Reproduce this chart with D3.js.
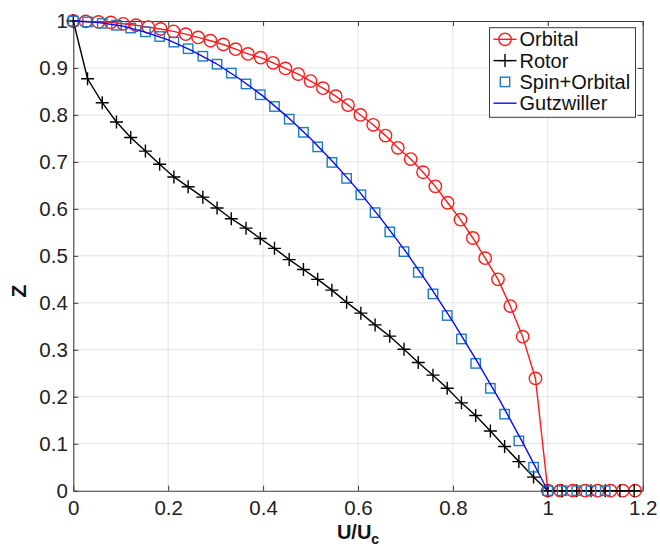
<!DOCTYPE html>
<html>
<head>
<meta charset="utf-8">
<script src="https://cdn.jsdelivr.net/npm/d3@7"></script>
<style>
  html, body { margin: 0; padding: 0; background: #fff; }
  svg { display: block; }
  text { font-family: "Liberation Sans", Arial, Helvetica, sans-serif; }
</style>
</head>
<body>
<svg id="chart" width="660" height="548"></svg>
<script>
// Quasiparticle weight Z versus U/Uc for the different slave-particle treatments.

const orbitalU = [0, 0.026, 0.053, 0.079, 0.105, 0.132, 0.158, 0.184, 0.211, 0.237,
  0.263, 0.289, 0.316, 0.342, 0.368, 0.395, 0.421, 0.447, 0.474, 0.500,
  0.526, 0.553, 0.579, 0.605, 0.632, 0.658, 0.684, 0.711, 0.737, 0.763,
  0.789, 0.816, 0.842, 0.868, 0.895, 0.921, 0.947, 0.974, 1.000,
  1.026, 1.053, 1.079, 1.105, 1.132, 1.158, 1.184];
const orbitalZ = [1.000, 0.999, 0.998, 0.997, 0.994, 0.991, 0.987, 0.983, 0.978, 0.972,
  0.965, 0.958, 0.950, 0.940, 0.930, 0.922, 0.911, 0.899, 0.887, 0.872,
  0.857, 0.840, 0.821, 0.800, 0.779, 0.756, 0.730, 0.706, 0.678, 0.648,
  0.613, 0.577, 0.538, 0.495, 0.450, 0.393, 0.328, 0.239, 0,
  0, 0, 0, 0, 0, 0, 0];

const rotorU = [0, 0.030, 0.061, 0.091, 0.121, 0.152, 0.182, 0.212, 0.242, 0.273,
  0.303, 0.333, 0.364, 0.394, 0.424, 0.455, 0.485, 0.515, 0.545, 0.576,
  0.606, 0.636, 0.667, 0.697, 0.727, 0.758, 0.788, 0.818, 0.848, 0.879,
  0.909, 0.939, 0.970, 1.000, 1.030, 1.061, 1.091, 1.121, 1.152, 1.182];
const rotorZ = [1.000, 0.877, 0.826, 0.785, 0.752, 0.723, 0.695, 0.668, 0.647, 0.625,
  0.602, 0.579, 0.559, 0.537, 0.516, 0.492, 0.471, 0.450, 0.427, 0.401,
  0.378, 0.353, 0.329, 0.301, 0.273, 0.246, 0.218, 0.187, 0.160, 0.127,
  0.094, 0.062, 0.029, 0, 0, 0, 0, 0, 0, 0];

const spinOrbitalU = [0, 0.030, 0.061, 0.091, 0.121, 0.152, 0.182, 0.212, 0.242, 0.273,
  0.303, 0.333, 0.364, 0.394, 0.424, 0.455, 0.485, 0.515, 0.545, 0.576,
  0.606, 0.636, 0.667, 0.697, 0.727, 0.758, 0.788, 0.818, 0.848, 0.879,
  0.909, 0.939, 0.970, 1.000, 1.030, 1.061, 1.091, 1.121];
const spinOrbitalZ = [1.000, 0.998, 0.995, 0.991, 0.985, 0.977, 0.967, 0.955, 0.941, 0.925,
  0.908, 0.889, 0.866, 0.843, 0.818, 0.791, 0.763, 0.732, 0.699, 0.665,
  0.630, 0.592, 0.551, 0.509, 0.465, 0.419, 0.373, 0.323, 0.271, 0.218,
  0.163, 0.106, 0.050, 0, 0, 0, 0, 0];

const gutzwillerU = [0, 0.05, 0.10, 0.15, 0.20, 0.25, 0.30, 0.35, 0.40, 0.45,
  0.50, 0.55, 0.60, 0.65, 0.70, 0.75, 0.80, 0.85, 0.90, 0.95, 1.00];
const gutzwillerZ = [1.000, 0.997, 0.990, 0.977, 0.960, 0.937, 0.910, 0.877, 0.840, 0.797,
  0.750, 0.697, 0.640, 0.577, 0.510, 0.437, 0.360, 0.277, 0.190, 0.097, 0];

const seriesNames = ["Orbital", "Rotor", "Spin+Orbital", "Gutzwiller"];
const xTicks = [0, 0.2, 0.4, 0.6, 0.8, 1.0, 1.2];
const yTicks = [0, 0.1, 0.2, 0.3, 0.4, 0.5, 0.6, 0.7, 0.8, 0.9, 1.0];

const zip = (us, zs) => us.map((u, i) => ({u, z: zs[i]}));

const series = [
  {name: seriesNames[0], data: zip(orbitalU, orbitalZ), color: "#ff1a1a", line: true, marker: "circle"},
  {name: seriesNames[1], data: zip(rotorU, rotorZ), color: "#000000", line: true, marker: "plus"},
  {name: seriesNames[2], data: zip(spinOrbitalU, spinOrbitalZ), color: "#1b7bc4", line: false, marker: "square"},
  {name: seriesNames[3], data: zip(gutzwillerU, gutzwillerZ), color: "#0a0aff", line: true, marker: null}
];

const svg = d3.select("#chart");
const frame = {left: 73.3, right: 642.7, top: 21, bottom: 490.7};

const x = d3.scaleLinear().domain([0, 1.2]).range([frame.left, frame.right]);
const y = d3.scaleLinear().domain([0, 1]).range([frame.bottom, frame.top]);

const axisColor = "#3a3a3a";
const fontSize = 20.5;

// grid
const grid = svg.append("g").attr("class", "grid");
grid.selectAll("line.gx").data(xTicks.slice(1, -1)).join("line")
  .attr("x1", d => x(d)).attr("x2", d => x(d))
  .attr("y1", frame.top).attr("y2", frame.bottom)
  .attr("stroke", "#e3e3e3").attr("stroke-width", 1);
grid.selectAll("line.gy").data(yTicks.slice(1, -1)).join("line")
  .attr("x1", frame.left).attr("x2", frame.right)
  .attr("y1", d => y(d)).attr("y2", d => y(d))
  .attr("stroke", "#e3e3e3").attr("stroke-width", 1);

// axes with inward ticks on all four sides
const fmt = d => d3.format("~g")(d);
const styleAxis = g => {
  g.select(".domain").attr("stroke", axisColor).attr("stroke-width", 1.1);
  g.selectAll(".tick line").attr("stroke", axisColor).attr("stroke-width", 1);
  g.selectAll(".tick text").attr("fill", "#222").attr("font-size", fontSize)
    .attr("font-family", "Liberation Sans, Arial, sans-serif");
};

svg.append("g").attr("transform", `translate(0,${frame.bottom})`)
  .call(d3.axisBottom(x).tickValues(xTicks).tickFormat(fmt).tickSizeInner(-5).tickSizeOuter(0).tickPadding(9.5))
  .call(styleAxis);
svg.append("g").attr("transform", `translate(0,${frame.top})`)
  .call(d3.axisTop(x).tickValues(xTicks).tickFormat("").tickSizeInner(-5).tickSizeOuter(0))
  .call(styleAxis);
svg.append("g").attr("transform", `translate(${frame.left},0)`)
  .call(d3.axisLeft(y).tickValues(yTicks).tickFormat(fmt).tickSizeInner(-5).tickSizeOuter(0).tickPadding(5.5))
  .call(styleAxis);
svg.append("g").attr("transform", `translate(${frame.right},0)`)
  .call(d3.axisRight(y).tickValues(yTicks).tickFormat("").tickSizeInner(-5).tickSizeOuter(0))
  .call(styleAxis);

// series lines
const lineGen = d3.line().x(d => x(d.u)).y(d => y(d.z));
const plot = svg.append("g").attr("class", "plot");

function drawMarker(sel, kind, color) {
  if (kind === "circle") {
    sel.append("circle").attr("r", 6.2).attr("fill", "none")
      .attr("stroke", color).attr("stroke-width", 1.4);
  } else if (kind === "plus") {
    sel.append("path").attr("d", "M-6.5,0H6.5M0,-6.5V6.5")
      .attr("stroke", color).attr("stroke-width", 1.4).attr("fill", "none");
  } else if (kind === "square") {
    sel.append("rect").attr("x", -4.7).attr("y", -4.7).attr("width", 9.4).attr("height", 9.4)
      .attr("fill", "none").attr("stroke", color).attr("stroke-width", 1.4);
  }
}

series.forEach(s => {
  const g = plot.append("g");
  if (s.line) {
    g.append("path").datum(s.data).attr("d", lineGen)
      .attr("fill", "none").attr("stroke", s.color).attr("stroke-width", 1.4);
  }
  if (s.marker) {
    g.selectAll("g.m").data(s.data).join("g")
      .attr("transform", d => `translate(${x(d.u)},${y(d.z)})`)
      .each(function () { drawMarker(d3.select(this), s.marker, s.color); });
  }
});

// axis labels
svg.append("text")
  .attr("transform", `translate(26,291) rotate(-90)`)
  .attr("text-anchor", "middle")
  .attr("font-size", 21).attr("font-weight", "bold").attr("fill", "#111")
  .text("Z");

const xl = svg.append("text")
  .attr("x", 358).attr("y", 538.5)
  .attr("text-anchor", "middle")
  .attr("font-size", 20).attr("font-weight", "bold").attr("fill", "#111");
xl.append("tspan").text("U/U");
xl.append("tspan").attr("font-size", 14).attr("dy", 5).text("c");

// legend
const lg = svg.append("g").attr("transform", "translate(489.5,27.7)");
lg.append("rect").attr("width", 146).attr("height", 89.6)
  .attr("fill", "#fff").attr("stroke", axisColor).attr("stroke-width", 1);
series.forEach((s, i) => {
  const row = lg.append("g").attr("transform", `translate(0,${11.6 + i * 21.3})`);
  if (s.line) {
    row.append("line").attr("x1", 4).attr("x2", 27).attr("y1", 0).attr("y2", 0)
      .attr("stroke", s.color).attr("stroke-width", 1.4);
  }
  if (s.marker) {
    const m = row.append("g").attr("transform", "translate(15.5,0)");
    drawMarker(m, s.marker, s.color);
  }
  row.append("text").attr("x", 30).attr("y", 0).attr("dy", "0.35em")
    .attr("font-size", 20).attr("fill", "#111").text(s.name);
});
</script>
</body>
</html>
